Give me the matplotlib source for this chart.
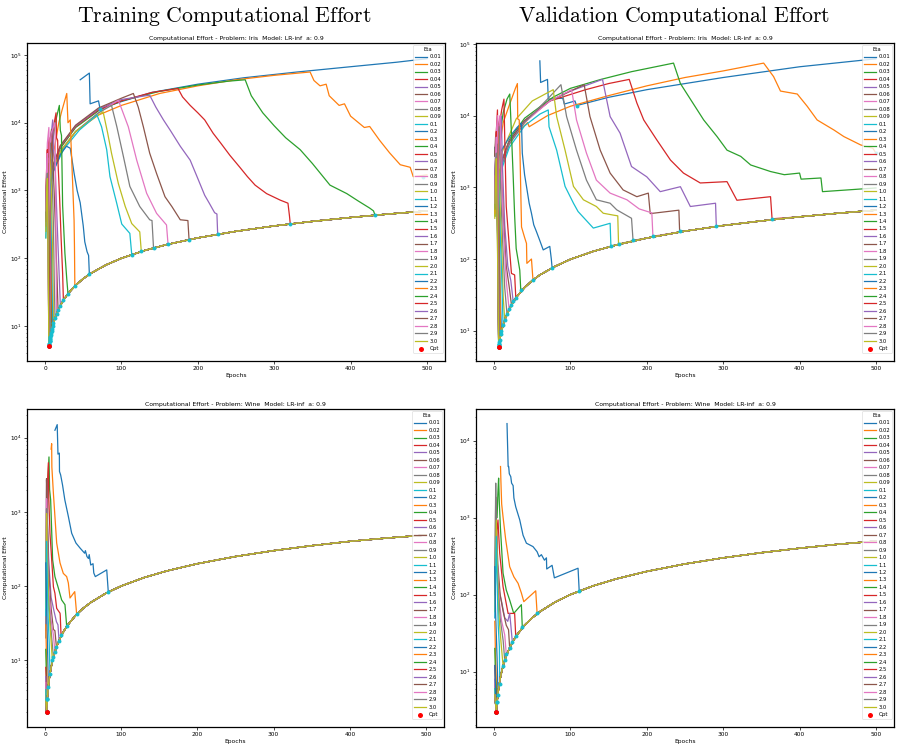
import matplotlib
matplotlib.use("Agg")
import matplotlib.pyplot as plt
from matplotlib.ticker import LogLocator, NullFormatter

plt.rcParams['mathtext.fontset'] = 'cm'

ETAS = ['0.01', '0.02', '0.03', '0.04', '0.05', '0.06', '0.07', '0.08', '0.09',
        '0.1', '0.2', '0.3', '0.4', '0.5', '0.6', '0.7', '0.8', '0.9', '1.0',
        '1.1', '1.2', '1.3', '1.4', '1.5', '1.6', '1.7', '1.8', '1.9', '2.0',
        '2.1', '2.2', '2.3', '2.4', '2.5', '2.6', '2.7', '2.8', '2.9', '3.0']
COLORS = ['tab:blue', 'tab:orange', 'tab:green', 'tab:red', 'tab:purple',
          'tab:brown', 'tab:pink', 'tab:gray', 'tab:olive', 'tab:cyan']

# ---------------- Iris, training ----------------
IT_BASE_X = [5, 6, 7, 8, 10, 12, 15, 20, 25, 30, 40, 50, 60, 80, 100, 130, 160, 200, 250, 300, 350, 400, 450, 500]
IT_BASE_Y = [5, 6, 7, 8, 10, 12, 15, 20, 25, 30, 40, 50, 60, 80, 100, 130, 160, 200, 250, 300, 350, 400, 450, 500]
IT_OPT = (5, 5)
IT_SERIES = [
    [(46, 4.3e4), (58, 5.4e4), (59, 1.9e4), (70, 2.1e4), (72, 1.6e4), (100, 2.05e4), (140, 2.8e4), (200, 3.7e4), (260, 4.6e4), (330, 5.6e4), (400, 6.7e4), (460, 7.8e4), (500, 8.8e4)],
    [(3, 700), (5, 1100), (10, 2000), (20, 3800), (40, 7400), (70, 1.3e4), (100, 1.8e4), (150, 2.7e4), (200, 3.5e4), (250, 4.3e4), (300, 5e4), (347, 5.6e4), (352, 4.2e4), (360, 3.5e4), (368, 3.7e4), (372, 2.5e4), (385, 1.8e4), (392, 1.9e4), (400, 1.25e4), (418, 8500), (425, 8800), (438, 5500), (451, 3600), (465, 2400), (478, 2200), (482, 1600), (500, 1700)],
    [(3, 800), (10, 2100), (20, 4200), (40, 8500), (70, 1.5e4), (100, 2.1e4), (150, 2.9e4), (200, 3.6e4), (240, 4.1e4), (262, 4.3e4), (270, 2.5e4), (285, 1.4e4), (300, 9000), (315, 6000), (334, 4000), (350, 2500), (373, 1200), (395, 900), (410, 700), (425, 550), (430, 500), (432, 432)],
    [(3, 900), (10, 2200), (20, 4400), (40, 8800), (70, 1.55e4), (100, 2.1e4), (140, 2.8e4), (174, 3.2e4), (180, 2.4e4), (190, 1.8e4), (200, 1.4e4), (209, 1.1e4), (220, 7000), (230, 5000), (242, 3300), (255, 2200), (265, 1600), (275, 1200), (290, 900), (308, 720), (318, 650), (320, 420), (321, 321)],
    [(2, 600), (10, 2200), (20, 4500), (40, 9000), (70, 1.6e4), (100, 2.2e4), (137, 2.55e4), (145, 1.7e4), (155, 1.1e4), (164, 7700), (177, 4500), (190, 2800), (200, 1500), (209, 850), (215, 650), (222, 470), (225, 450), (226, 226)],
    [(2, 500), (10, 2300), (20, 4600), (40, 9200), (70, 1.65e4), (100, 2.3e4), (115.6, 2.7e4), (122, 1.7e4), (128.7, 8700), (137, 3550), (146, 1780), (157, 810), (166, 580), (177, 370), (187, 360), (188.5, 189)],
    [(2, 500), (10, 1900), (20, 3700), (40, 7400), (70, 1.4e4), (96, 2.15e4), (109, 8700), (120, 2800), (133, 910), (146, 460), (159, 310), (161, 161)],
    [(2, 450), (10, 1900), (20, 3700), (40, 7400), (70, 1.4e4), (87, 1.8e4), (94, 8700), (102.5, 3200), (111, 1150), (124, 580), (137, 370), (140, 360), (142, 142)],
    [(2, 400), (10, 1850), (20, 3700), (40, 7400), (60, 1.1e4), (76, 1.45e4), (82, 7000), (87, 3550), (96, 1260), (105, 580), (113.5, 325), (124, 245), (126, 126)],
    [(2, 400), (10, 1850), (24, 4000), (45, 7800), (68, 1.3e4), (74, 8700), (80.7, 4000), (85, 1600), (93.8, 650), (100.4, 320), (111, 233), (113.5, 113.5)],
    [(2, 300), (5, 900), (10, 1800), (20, 3400), (28, 4500), (33, 4200), (35, 3000), (38, 1800), (42, 1000), (46, 660), (50, 300), (52, 175), (55, 125), (57, 110), (58, 58)],
    [(2, 500), (10, 3000), (18, 1e4), (22, 1.5e4), (28.4, 2.7e4), (30, 1e4), (33, 1.1e4), (34, 5000), (36, 1400), (38, 360), (38.5, 150), (39, 39)],
    [(2, 600), (8, 4000), (15, 1.2e4), (18.7, 1.8e4), (20, 7700), (21.5, 6500), (22, 3000), (23, 600), (26, 118), (28.5, 48), (30, 30)],
    [(2, 500), (8, 4000), (12, 1e4), (14.4, 1.4e4), (15, 6000), (16.5, 5500), (17, 2500), (19, 800), (21, 200), (23, 60), (24, 24)],
    [(2, 700), (6, 4000), (10, 1.1e4), (11, 4000), (13, 2500), (15, 600), (17, 150), (19, 40), (20, 20)],
    [(1, 400), (3, 1500), (6, 5000), (8.5, 8000), (10, 3000), (12, 900), (14, 200), (16, 40), (17, 17)],
    [(1, 300), (4, 2000), (8, 7000), (13, 1e4), (13.5, 3000), (14, 500), (14.5, 80), (15, 15)],
    [(1, 300), (4, 2500), (7, 5000), (9, 2000), (11, 300), (12, 50), (13, 13)],
    [(1, 200), (3, 1500), (6, 3500), (8, 1200), (10, 100), (11, 11)],
    [(1, 200), (3, 1200), (5, 3000), (7, 800), (9, 50), (10, 10)],
    [(1, 300), (3, 1500), (5, 2500), (7, 400), (8.5, 30), (9, 9)],
    [(1, 500), (3, 2000), (5, 4500), (6, 800), (8, 40), (8.5, 8.5)],
    [(1, 600), (3, 2500), (4.5, 3500), (6, 500), (7.5, 20), (8, 8)],
    [(1, 400), (3, 3000), (5, 6000), (6, 600), (7, 60), (7.5, 7.5)],
    [(1, 350), (3, 2000), (4, 3000), (5.5, 300), (7, 7)],
    [(1, 350), (2, 1500), (4, 2500), (5, 400), (6.5, 10), (7, 7)],
    [(1, 800), (3, 5000), (5, 8500), (6, 1000), (6.5, 6.5)],
    [(1, 300), (2, 1200), (4, 2000), (5.5, 200), (6.5, 6.5)],
    [(1, 300), (2, 1000), (4, 1800), (5.5, 100), (6, 6)],
    [(1, 250), (2, 900), (4, 1500), (5, 150), (6, 6)],
    [(1, 400), (2, 1200), (3.5, 2500), (5, 200), (6, 6)],
    [(1, 600), (2, 1500), (3.5, 3000), (5, 300), (5.5, 5.5)],
    [(1, 500), (2, 1500), (3, 2800), (4.5, 300), (5.5, 5.5)],
    [(1, 500), (2, 2000), (3, 4000), (4.5, 500), (5.5, 5.5)],
    [(1, 400), (2, 1500), (3, 3000), (4, 300), (5, 5)],
    [(1, 350), (2, 1200), (3, 2200), (4, 200), (5, 5)],
    [(1, 500), (2, 1800), (3, 3500), (4, 300), (5, 5)],
    [(1, 300), (2, 1000), (3, 1800), (4, 150), (5, 5)],
    [(1, 250), (2, 800), (3, 1500), (4, 100), (5, 5)],
]
IT_DOT_X = [72, 495, 432, 321, 226, 188.5, 161, 142, 126, 113.5, 58, 39, 30, 24, 20, 17, 15, 13, 11, 10, 9, 8.5, 8, 7.5, 7, 7, 6.5, 6.5, 6, 6, 6, 5.5, 5.5, 5.5, 5, 5, 5, 5, 5]
IT_DOT_Y = [1.6e4, 1600, 432, 321, 226, 189, 161, 142, 126, 113.5, 58, 39, 30, 24, 20, 17, 15, 13, 11, 10, 9, 8.5, 8, 7.5, 7, 7, 6.5, 6.5, 6, 6, 6, 5.5, 5.5, 5.5, 5, 5, 5, 5, 5]

# ---------------- Iris, validation ----------------
IV_BASE_X = [6.1, 7, 8, 10, 12, 15, 20, 25, 30, 40, 50, 60, 80, 100, 130, 160, 200, 250, 300, 350, 400, 450, 500]
IV_BASE_Y = [6, 7, 8, 10, 12, 15, 20, 25, 30, 40, 50, 60, 79, 99, 128, 157, 196, 245, 293, 340, 388, 435, 480]
IV_OPT = (6.1, 6)
IV_SERIES = [
    [(60, 5.8e4), (61, 2.9e4), (70, 3.2e4), (71, 1.7e4), (90, 1.75e4), (92, 1.45e4), (106, 1.6e4), (108, 1.38e4), (150, 1.8e4), (200, 2.3e4), (300, 3.4e4), (400, 4.8e4), (500, 6.2e4)],
    [(3, 900), (10, 2200), (20, 4300), (35, 6500), (44, 8000), (46, 7000), (70, 1e4), (100, 1.35e4), (150, 1.9e4), (200, 2.6e4), (250, 3.4e4), (300, 4.2e4), (353, 5.4e4), (366, 3.5e4), (375, 2.2e4), (397, 2e4), (410, 1.35e4), (423, 8700), (445, 6300), (458, 5100), (480, 3900), (496, 3500), (500, 3000)],
    [(2, 600), (10, 2300), (20, 4600), (40, 9200), (77, 1.8e4), (100, 2.4e4), (140, 3.2e4), (180, 4.1e4), (235, 5.4e4), (244, 2.8e4), (257, 1.7e4), (274.5, 8700), (292, 5100), (305, 3300), (323, 2700), (336, 2050), (362, 1660), (380, 1500), (400, 1580), (402, 1300), (428, 1350), (430, 870), (500, 980)],
    [(2, 700), (10, 2300), (20, 4400), (40, 8500), (73, 1.6e4), (120, 2.3e4), (150, 2.8e4), (177, 3.2e4), (187, 1.5e4), (196, 8700), (213, 4600), (231, 2400), (248, 1580), (270, 1150), (305, 1200), (318, 660), (362, 740), (364, 364)],
    [(2, 600), (10, 2200), (20, 4400), (40, 8500), (73, 1.6e4), (100, 2.2e4), (142, 3.2e4), (152, 9700), (165, 5700), (180, 1950), (200, 1400), (217.6, 870), (244, 1020), (257, 540), (290, 600), (291, 291)],
    [(2, 500), (10, 2200), (20, 4300), (40, 8500), (73, 1.6e4), (100, 2.2e4), (118, 2.7e4), (125.6, 9700), (139, 3300), (152, 1580), (169, 920), (187, 740), (202, 830), (204.5, 430), (242, 480), (243, 243)],
    [(2, 500), (10, 2000), (20, 4000), (40, 8000), (73, 1.6e4), (101.6, 2.3e4), (108, 8700), (121, 3000), (134, 1260), (152, 830), (174, 670), (190, 500), (206.6, 440), (208, 208)],
    [(2, 450), (10, 2000), (20, 4000), (40, 8000), (70, 1.7e4), (87.6, 2.7e4), (95, 9700), (108, 3300), (121, 1260), (134, 670), (152, 600), (160.7, 485), (180, 370), (182, 182)],
    [(2, 400), (10, 3000), (29, 9000), (50, 1.6e4), (77.5, 2.3e4), (82, 9700), (93, 3300), (104, 1030), (117, 670), (134, 540), (143, 435), (156, 410), (162, 400), (163, 163)],
    [(2, 400), (10, 1800), (20, 3600), (40, 7200), (60, 1.05e4), (71, 1.2e4), (72, 7000), (82, 3300), (93, 1030), (104, 600), (110, 460), (130, 270), (152, 315), (153, 153)],
    [(2, 1200), (3, 3600), (6, 2800), (12, 3600), (20, 5000), (30, 6800), (36, 7900), (37, 3000), (40, 1500), (42.5, 1030), (46, 600), (49, 435), (52, 300), (55.6, 240), (60, 180), (64.4, 134), (73, 150), (75, 100), (76, 76)],
    [(2, 500), (6, 3000), (12, 8000), (20, 1.4e4), (28, 2.4e4), (30.6, 2.8e4), (31, 9000), (33, 8700), (34, 3000), (35, 900), (36, 280), (40, 200), (42.5, 165), (43, 87), (49, 100), (51, 51)],
    [(2, 700), (6, 4000), (12, 1.1e4), (17, 1.7e4), (20.6, 2e4), (21.5, 1.2e4), (23, 5000), (25, 1500), (27, 400), (29, 140), (33.7, 70), (35, 37)],
    [(2, 900), (6, 6000), (10, 1.2e4), (13, 1.7e4), (14, 5000), (16, 540), (20, 150), (22.8, 63), (27, 60), (28.5, 29)],
    [(2, 700), (5, 4000), (8, 8000), (9.6, 9800), (11, 2000), (14, 300), (18, 80), (22, 50), (25, 26)],
    [(1, 2700), (3, 5000), (6, 7500), (7.4, 8700), (9, 2500), (12, 400), (16, 80), (20, 40), (22.8, 23)],
    [(1, 500), (4, 4000), (7, 9000), (8, 1e4), (9, 2500), (12, 300), (16, 50), (19.7, 20)],
    [(1, 700), (3, 3000), (6.6, 7000), (8, 1500), (11, 200), (14, 40), (17, 17)],
    [(1, 400), (3, 2500), (5, 5000), (7, 1000), (10, 150), (12, 30), (14, 14)],
    [(1, 1000), (3, 2000), (5, 3500), (7, 500), (10, 60), (11.8, 12)],
    [(1, 3600), (2, 2500), (4, 2000), (6, 400), (8, 40), (9.6, 10)],
    [(1, 430), (3, 3000), (5, 6000), (6, 600), (8, 30), (8.5, 9)],
    [(1, 600), (3, 3500), (4.5, 5000), (6, 500), (7.4, 7.5)],
    [(1, 900), (3, 6000), (4.5, 1.2e4), (5.5, 1000), (7, 7)],
    [(1, 600), (3, 3000), (4, 5000), (5.5, 300), (6.6, 6.6)],
    [(1, 2800), (2, 5000), (3.5, 6000), (5, 500), (6.6, 6.6)],
    [(1, 800), (3, 6000), (4.5, 1e4), (5.5, 800), (6.3, 6.3)],
    [(1, 740), (2, 2500), (4, 4000), (5.5, 300), (6.3, 6.3)],
    [(1, 370), (2, 1500), (3.5, 3000), (5, 200), (6.1, 6)],
    [(1, 1030), (2, 1500), (3, 2500), (5, 150), (6.1, 6)],
    [(1, 1500), (2, 2500), (3, 3000), (5, 200), (6.1, 6)],
    [(1, 430), (2, 1500), (3, 3500), (5, 300), (6.1, 6)],
    [(1, 500), (2, 1800), (3, 3500), (4.5, 300), (6.1, 6)],
    [(1, 700), (2, 2500), (3, 6000), (4.5, 400), (6.1, 6)],
    [(1, 600), (2, 2000), (3, 4000), (4.5, 300), (6.1, 6)],
    [(1, 2800), (2, 4000), (3, 5000), (4.5, 400), (6.1, 6)],
    [(1, 600), (2, 2500), (3, 5000), (4.5, 400), (6.1, 6)],
    [(1, 500), (2, 1500), (3, 3000), (4.5, 200), (6.1, 6)],
    [(1, 400), (2, 1200), (3, 2500), (4.5, 150), (6.1, 6)],
]
IV_DOT_X = [108, 500, None, 364, 291, 243, 208, 182, 163, 153, 76, 51, 35, 28.5, 25, 22.8, 19.7, 17, 14, 11.8, 9.6, 8.5, 7.4, 7, 6.6, 6.6, 6.3, 6.3, 6.1, 6.1, 6.1, 6.1, 6.1, 6.1, 6.1, 6.1, 6.1, 6.1, 6.1]
IV_DOT_Y = [1.38e4, 3000, None, 364, 291, 243, 208, 182, 163, 153, 76, 51, 37, 29, 26, 23, 20, 17, 14, 12, 10, 9, 7.5, 7, 6.6, 6.6, 6.3, 6.3, 6, 6, 6, 6, 6, 6, 6, 6, 6, 6, 6]

# ---------------- Wine, training ----------------
WT_BASE_X = [2, 3, 4, 5, 6, 8, 10, 12, 15, 20, 25, 30, 40, 50, 60, 80, 100, 130, 160, 200, 250, 300, 350, 400, 450, 500]
WT_BASE_Y = [2, 3, 4, 5, 6, 8, 10, 12, 15, 20, 25, 30, 40, 50, 60, 80, 100, 130, 160, 200, 250, 300, 350, 400, 445, 487]
WT_OPT = (2, 2)
WT_SERIES = [
    [(13, 1.26e4), (16, 1.5e4), (17, 6000), (18.8, 6200), (19, 3500), (20.5, 3150), (23, 2300), (26, 1450), (30.6, 870), (35, 515), (40.6, 380), (46, 325), (49, 300), (52, 277), (53, 300), (55, 250), (57, 235), (58, 265), (60, 192), (63, 200), (64, 150), (66, 134), (81, 165), (83, 84)],
    [(8, 7000), (8.7, 8300), (9, 4000), (11, 1780), (15.3, 380), (19.7, 205), (24, 148), (28.4, 134), (30.6, 110), (32.8, 69), (39, 84), (41.5, 42)],
    [(2, 100), (4, 3000), (5.2, 5500), (6, 2000), (7.4, 1450), (10, 225), (13, 134), (17.5, 94), (21.8, 65), (26.2, 56), (28.4, 29)],
    [(2, 80), (3, 2000), (4.4, 4600), (5, 1500), (6.5, 515), (8, 300), (11, 98), (13, 80), (15.3, 50), (19.7, 43), (20, 40), (21, 22)],
    [(1, 40), (2, 2700), (3, 900), (5, 200), (8, 70), (12, 45), (15, 33), (17, 30), (18.4, 18.4)],
    [(1, 30), (2, 2800), (3, 800), (5, 150), (8, 50), (11, 26), (13, 25), (15, 15)],
    [(1, 25), (2, 1500), (3, 400), (5, 90), (8, 35), (11, 22), (13, 13)],
    [(1, 20), (2, 1100), (3, 300), (5, 60), (8, 25), (11, 11)],
    [(1, 50), (2, 950), (3, 250), (5, 50), (8, 18), (9.6, 10)],
    [(1, 40), (2, 400), (3, 120), (4, 40), (5.5, 17), (6.5, 6.5)],
    [(1, 205), (2, 60), (3, 20), (4.4, 4.4)],
    [(1, 30), (2, 10), (3, 3)],
    [(1, 14), (2, 5), (3, 3)],
    [(1, 8), (2, 4), (3, 3)],
    [(1, 6), (2, 2)], [(1, 5), (2, 2)], [(1, 5), (2, 2)], [(1, 4), (2, 2)], [(1, 4), (2, 2)],
    [(1, 4), (2, 2)], [(1, 3), (2, 2)], [(1, 3), (2, 2)], [(1, 3), (2, 2)], [(1, 3), (2, 2)],
    [(1, 3), (2, 2)], [(1, 3), (2, 2)], [(1, 3), (2, 2)], [(1, 3), (2, 2)], [(1, 3), (2, 2)],
    [(1, 3), (2, 2)], [(1, 3), (2, 2)], [(1, 3), (2, 2)], [(1, 3), (2, 2)], [(1, 3), (2, 2)],
    [(1, 3), (2, 2)], [(1, 3), (2, 2)], [(1, 3), (2, 2)], [(1, 3), (2, 2)], [(1, 3), (2, 2)],
]
WT_DOT_X = [83, 41.5, 28.4, 21, 18.4, 15, 13, 11, 9.6, 6.5, 4.4, 3, 3, 3] + [2] * 25
WT_DOT_Y = [84, 42, 29, 22, 18.4, 15, 13, 11, 10, 6.5, 4.4, 3, 3, 3] + [2] * 25

# ---------------- Wine, validation ----------------
WV_BASE_X = [3, 4, 5, 6, 8, 10, 12, 15, 20, 25, 30, 40, 50, 60, 80, 100, 130, 160, 200, 250, 300, 350, 400, 450, 500]
WV_BASE_Y = [3, 4, 5, 6, 8, 10, 12, 15, 20, 25, 30, 40, 50, 60, 80, 100, 130, 160, 200, 250, 300, 350, 400, 450, 495]
WV_OPT = (3, 3)
WV_SERIES = [
    [(17, 1.66e4), (18.5, 4600), (19.2, 4600), (20, 3700), (21.9, 3400), (23, 2800), (25, 2600), (26, 1800), (28.4, 1380), (33.7, 930), (38, 590), (42.4, 465), (51, 420), (56.4, 360), (59, 310), (62, 330), (66, 280), (68.6, 300), (69, 215), (76, 240), (79, 165), (110, 220), (111.5, 112)],
    [(8.5, 4600), (9, 3000), (10, 1500), (11.8, 1020), (15.3, 515), (20.5, 230), (26, 170), (31.5, 140), (35.8, 105), (39, 81), (54.6, 112), (56.4, 57)],
    [(4, 1000), (5, 2000), (6, 3250), (7, 1500), (8.3, 760), (11.8, 190), (16, 115), (20.5, 85), (25.8, 57), (35.8, 74), (37, 38)],
    [(3, 300), (4, 700), (5.2, 930), (7.4, 345), (11.8, 127), (18.4, 57), (27, 57), (28.4, 29)],
    [(1, 60), (2, 400), (3, 700), (4, 300), (6, 120), (10, 80), (14, 50), (18, 45), (20.5, 57), (22, 40), (24, 24)],
    [(1, 100), (2.2, 1850), (3, 800), (5, 250), (8, 100), (12, 60), (16, 40), (19, 35), (20.5, 20)],
    [(1, 50), (3, 500), (4, 300), (7, 80), (10, 45), (14, 30), (16, 17)],
    [(1, 100), (2.2, 2800), (3, 600), (5, 150), (8, 50), (12, 25), (14, 14)],
    [(1, 60), (3, 930), (4, 300), (6, 60), (9, 25), (11.8, 12)],
    [(1, 50), (3, 570), (4, 150), (5.5, 40), (7, 21), (7.4, 7)],
    [(1, 230), (2, 60), (4, 15), (5.2, 5)],
    [(1, 45), (2, 15), (3.9, 4)],
    [(1, 20), (2, 8), (3.9, 4)],
    [(1, 12), (2, 6), (3, 3)],
    [(1, 8), (3, 3)], [(1, 7), (3, 3)], [(1, 7), (3, 3)], [(1, 6), (3, 3)], [(1, 6), (3, 3)],
    [(1, 6), (3, 3)], [(1, 12), (3, 3)], [(1, 5), (3, 3)], [(1, 5), (3, 3)], [(1, 5), (3, 3)],
    [(1, 5), (3, 3)], [(1, 5), (3, 3)], [(1, 5), (3, 3)], [(1, 5), (3, 3)], [(1, 5), (3, 3)],
    [(1, 5), (3, 3)], [(1, 5), (3, 3)], [(1, 5), (3, 3)], [(1, 5), (3, 3)], [(1, 5), (3, 3)],
    [(1, 5), (3, 3)], [(1, 5), (3, 3)], [(1, 5), (3, 3)], [(1, 5), (3, 3)], [(1, 5), (3, 3)],
]
WV_DOT_X = [111.5, 56.4, 37, 28.4, 24, 20.5, 16, 14, 11.8, 7.4, 5.2, 3.9, 3.9] + [3] * 26
WV_DOT_Y = [112, 57, 38, 29, 24, 20, 17, 14, 12, 7, 5, 4, 4] + [3] * 26

XLIM = (-23.6, 523.6)


def draw_panel(ax, series, dot_x, dot_y, opt, base_x, base_y, problem, ylim):
    for i, pts in enumerate(series):
        xs = [p[0] for p in pts]
        ys = [p[1] for p in pts]
        if xs[-1] < 500:
            for bx, by in zip(base_x, base_y):
                if bx > xs[-1]:
                    xs.append(bx)
                    ys.append(by)
        ax.plot(xs, ys, color=COLORS[i % 10], lw=0.9, label=ETAS[i])
    dx = [x for x in dot_x if x is not None]
    dy = [y for y in dot_y if y is not None]
    ax.scatter(dx, dy, color='tab:cyan', s=8, zorder=3, linewidths=0)
    ax.scatter([opt[0]], [opt[1]], color='red', s=13, zorder=4, label='Opt', linewidths=0)
    ax.set_yscale('log')
    ax.set_xlim(*XLIM)
    ax.set_ylim(*ylim)
    ax.set_xticks([0, 100, 200, 300, 400, 500])
    ax.yaxis.set_minor_locator(LogLocator(base=10, subs=range(2, 10), numticks=20))
    ax.yaxis.set_minor_formatter(NullFormatter())
    ax.tick_params(axis='both', which='major', labelsize=4.2, length=2, width=0.5, pad=1.5)
    ax.tick_params(axis='both', which='minor', length=1, width=0.4)
    ax.set_title('Computational Effort - Problem: %s  Model: LR-inf  a: 0.9' % problem,
                 fontsize=4.45, pad=2)
    ax.set_xlabel('Epochs', fontsize=4.3, labelpad=1.5)
    ax.set_ylabel('Computational Effort', fontsize=4.3, labelpad=2)
    for s in ax.spines.values():
        s.set_linewidth(0.9)
    leg = ax.legend(title='Eta', loc='upper right', fontsize=3.8, title_fontsize=3.8,
                    handlelength=2.2, labelspacing=0.47, borderaxespad=0.4,
                    borderpad=0.35, handletextpad=0.5, framealpha=0.8)
    leg.get_frame().set_linewidth(0.4)


fig = plt.figure(figsize=(9.01, 7.49), dpi=100)
ax_tl = fig.add_axes([0.0300, 0.5180, 0.4639, 0.4246])
ax_tr = fig.add_axes([0.5283, 0.5180, 0.4639, 0.4246])
ax_bl = fig.add_axes([0.0300, 0.0298, 0.4628, 0.4242])
ax_br = fig.add_axes([0.5283, 0.0298, 0.4639, 0.4242])

draw_panel(ax_tl, IT_SERIES, IT_DOT_X, IT_DOT_Y, IT_OPT, IT_BASE_X, IT_BASE_Y, 'Iris', (3.05, 1.5e5))
draw_panel(ax_tr, IV_SERIES, IV_DOT_X, IV_DOT_Y, IV_OPT, IV_BASE_X, IV_BASE_Y, 'Iris', (3.78, 1.03e5))
draw_panel(ax_bl, WT_SERIES, WT_DOT_X, WT_DOT_Y, WT_OPT, WT_BASE_X, WT_BASE_Y, 'Wine', (1.27, 2.44e4))
draw_panel(ax_br, WV_SERIES, WV_DOT_X, WV_DOT_Y, WV_OPT, WV_BASE_X, WV_BASE_Y, 'Wine', (1.93, 2.57e4))

fig.text(0.249, 1 - 16 / 749, r'$\mathrm{Training\ Computational\ Effort}$',
         ha='center', va='center', fontsize=15.7)
fig.text(0.748, 1 - 16 / 749, r'$\mathrm{Validation\ Computational\ Effort}$',
         ha='center', va='center', fontsize=15.7)

fig.savefig('out.png', dpi=100)
